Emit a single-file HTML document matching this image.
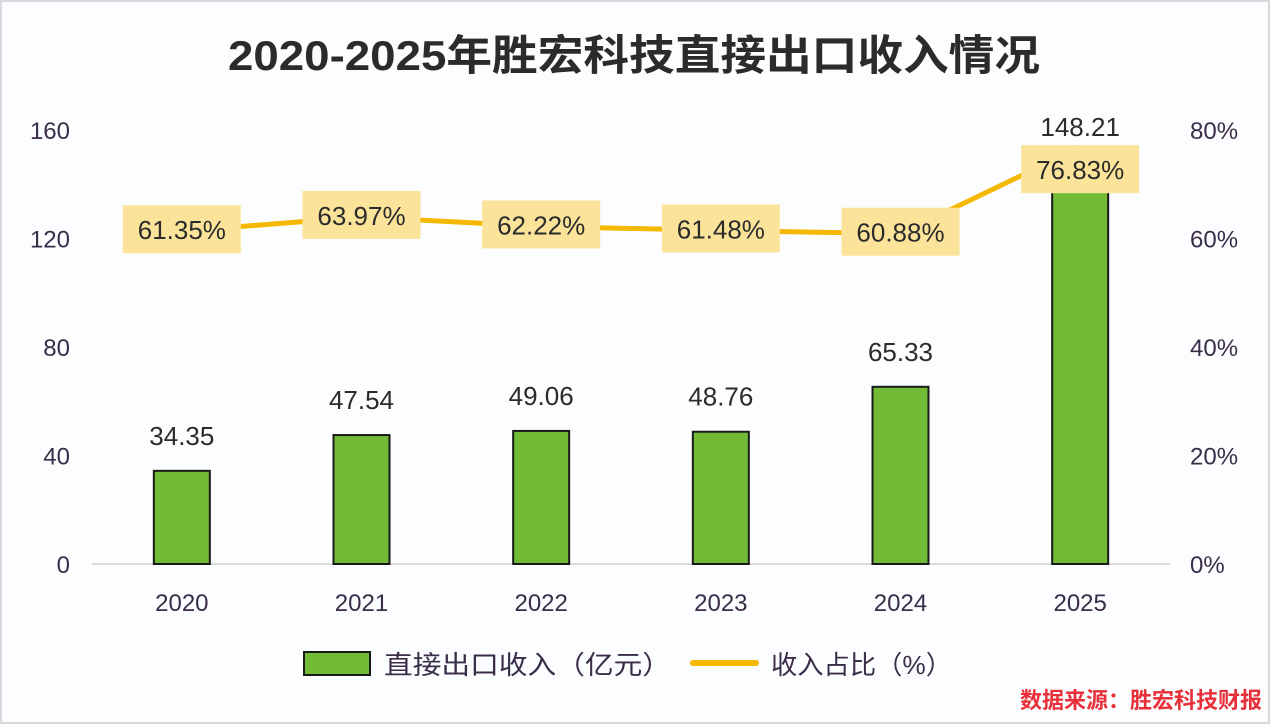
<!DOCTYPE html>
<html><head><meta charset="utf-8"><style>
html,body{margin:0;padding:0;background:#fcfdfe;}
svg{display:block;font-family:"Liberation Sans","Noto Sans CJK SC",sans-serif;}
</style></head><body>
<svg id="c" width="1270" height="724">
<rect x="1" y="1" width="1268" height="722" fill="#fcfdfe" stroke="#d8d8dc" stroke-width="2"/>
<text x="228" y="70" textLength="812" lengthAdjust="spacingAndGlyphs" font-size="42" font-weight="bold" fill="#2b2b2b">2020-2025年胜宏科技直接出口收入情况</text>
<g id="g"></g>
<g>
<rect x="304" y="652" width="66" height="23" fill="#72bb36" stroke="#1a1a1a" stroke-width="2"/>
<text x="384" y="674" textLength="287" lengthAdjust="spacingAndGlyphs" font-size="26" fill="#3a2d4a">直接出口收入（亿元）</text>
<line x1="693" y1="663" x2="756" y2="663" stroke="#f5b800" stroke-width="6" stroke-linecap="round"/>
<text x="771" y="674" textLength="181" lengthAdjust="spacingAndGlyphs" font-size="26" fill="#3a2d4a">收入占比（%）</text>
</g>
<text x="1262" y="708" text-anchor="end" font-size="22" font-weight="bold" fill="#e8303a">数据来源：胜宏科技财报</text>
</svg>
<script>
const years=["2020","2021","2022","2023","2024","2025"];
const revenue=[34.35,47.54,49.06,48.76,65.33,148.21];
const share=[61.35,63.97,62.22,61.48,60.88,76.83];
const leftTicks=[0,40,80,120,160];
const rightTicks=[0,20,40,60,80];
const NS="http://www.w3.org/2000/svg";
const g=document.getElementById("g");
const x0=92,x1=1170,yB=564,yT=130;
const yL=v=>yB-(v/160)*(yB-yT);
const yR=v=>yB-(v/80)*(yB-yT);
const bw=(x1-x0)/years.length;
const xc=i=>x0+bw*(i+0.5);
function mk(t,a,p){const e=document.createElementNS(NS,t);for(const k in a)e.setAttribute(k,a[k]);(p||g).appendChild(e);return e;}
leftTicks.forEach(v=>{const t=mk("text",{x:70,y:yL(v)+9,"text-anchor":"end","font-size":24,fill:"#3a2d4a"});t.textContent=v;

});
rightTicks.forEach(v=>{const t=mk("text",{x:1190,y:yR(v)+9,"font-size":24,fill:"#3a2d4a"});t.textContent=v+"%";

});
const ax=mk("line",{x1:x0,y1:yB,x2:x1,y2:yB,stroke:"#d0d0d0","stroke-width":1.5});


years.forEach((y,i)=>{
 const b=mk("rect",{x:xc(i)-28,y:yL(revenue[i]),width:56,height:yB-yL(revenue[i]),fill:"#72bb36",stroke:"#1a1a1a","stroke-width":2});
 
 
 const t=mk("text",{x:xc(i),y:yB+47,"text-anchor":"middle","font-size":24,fill:"#3a2d4a"});t.textContent=y;
 
 
 const v=mk("text",{x:xc(i),y:yL(revenue[i])-26,"text-anchor":"middle","font-size":26,fill:"#2b2b2b"});v.textContent=revenue[i].toFixed(2);
 
 
});
const pts=share.map((v,i)=>xc(i)+","+yR(v)).join(" ");
const ln=mk("polyline",{points:pts,fill:"none",stroke:"#f5b800","stroke-width":5,"stroke-linejoin":"round"});


share.forEach((v,i)=>{
 const cy=yR(v)+(i===share.length-1?22:-2);
 const r=mk("rect",{x:xc(i)-59,y:cy-24,width:118,height:48,fill:"#fbe49a"});
 
 
 const t=mk("text",{x:xc(i),y:cy+10,"text-anchor":"middle","font-size":26,fill:"#2b2b2b"});t.textContent=v.toFixed(2)+"%";
 
 
});
</script>
</body></html>
